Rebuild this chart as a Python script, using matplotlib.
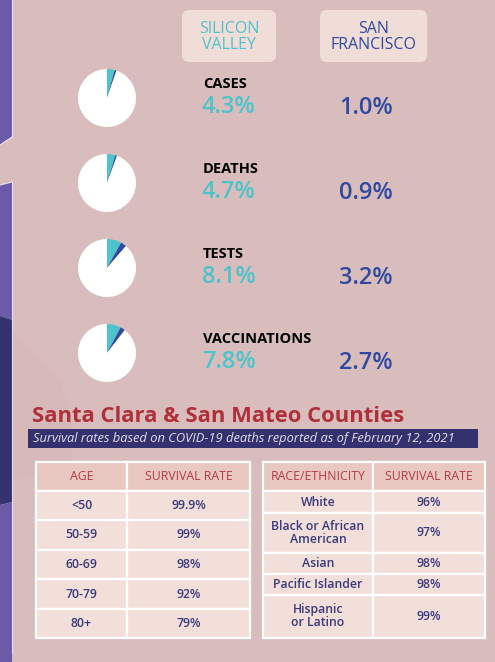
import matplotlib
matplotlib.use("Agg")
import matplotlib.pyplot as plt
from matplotlib.patches import Polygon, FancyBboxPatch, Rectangle

plt.rcParams['font.family'] = ['Open Sans', 'DejaVu Sans']

# ---------------- data ----------------
metrics = ["CASES", "DEATHS", "TESTS", "VACCINATIONS"]
silicon_valley = [4.3, 4.7, 8.1, 7.8]
san_francisco = [1.0, 0.9, 3.2, 2.7]
region_labels = ["SILICON\nVALLEY", "SAN\nFRANCISCO"]

title = "Santa Clara & San Mateo Counties"
subtitle = "Survival rates based on COVID-19 deaths reported as of February 12, 2021"

age_header = ["AGE", "SURVIVAL RATE"]
age_groups = ["<50", "50-59", "60-69", "70-79", "80+"]
age_survival = [99.9, 99, 98, 92, 79]

race_header = ["RACE/ETHNICITY", "SURVIVAL RATE"]
race_groups = ["White", "Black or African\nAmerican", "Asian", "Pacific Islander", "Hispanic\nor Latino"]
race_survival = [96, 97, 98, 98, 99]

# ---------------- style ----------------
W, H = 495, 662
BG = '#d9bdbd'
PURPLE = '#6a5aa8'
NAVY = '#33326f'
TEAL = '#4dc3cb'
BLUE = '#2f4aa0'
BOX = '#f0ddd8'
RED = '#b0303a'
HEAD_FILL = '#e8c8c0'
BODY_FILL = '#f2dfda'
BODY_TXT = '#3a3a7c'

fig = plt.figure(figsize=(W / 100, H / 100), dpi=100)
fig.patch.set_facecolor(BG)
ax = fig.add_axes([0, 0, 1, 1])
ax.set_xlim(0, W)
ax.set_ylim(H, 0)
ax.axis('off')

# left decorative strip
ax.add_patch(Polygon([(0, 0), (12, 0), (12, 137), (0, 145)], closed=True, fc=PURPLE, ec='none'))
ax.add_patch(Polygon([(0, 185), (12, 182), (12, 320), (0, 316)], closed=True, fc=PURPLE, ec='none'))
ax.add_patch(Polygon([(0, 316), (12, 320), (12, 502), (0, 505)], closed=True, fc=NAVY, ec='none'))
ax.add_patch(Polygon([(0, 505), (12, 502), (12, 662), (0, 662)], closed=True, fc=PURPLE, ec='none'))
ax.add_patch(Polygon([(0, 145), (12, 137), (12, 182), (0, 185)], closed=True, fc=BG, ec='none'))
ax.plot([12, 12], [0, 137], color='#e8e0f0', lw=0.8)
ax.plot([12, 12], [182, 652], color='#e8e0f0', lw=0.8)
ax.plot([0, 12], [145, 137], color='#e8e0f0', lw=0.8)
ax.plot([0, 12], [185, 182], color='#e8e0f0', lw=0.8)
# subtle shading in panel
ax.add_patch(Polygon([(12, 330), (60, 380), (75, 430), (70, 470), (12, 480)], closed=True,
                     fc='#d4b6b4', ec='none', alpha=0.5))

# header boxes
for cx, bw, lab, col in zip([229, 373.5], [94, 107], region_labels, [TEAL, BLUE]):
    ax.add_patch(FancyBboxPatch((cx - bw / 2, 10), bw, 52, boxstyle="round,pad=0,rounding_size=7",
                                fc=BOX, ec='none'))
    ax.text(cx, 37, lab, ha='center', va='center', color=col, fontsize=11.5,
            linespacing=1.0, fontweight='medium')

# rows with pies
pie_y = [98, 183, 268, 353]
r = 29
for i, m in enumerate(metrics):
    cy = pie_y[i]
    pax = fig.add_axes([(107 - r) / W, 1 - (cy + r) / H, 2 * r / W, 2 * r / H])
    pax.pie([silicon_valley[i], san_francisco[i], 100 - silicon_valley[i] - san_francisco[i]],
            colors=[TEAL, BLUE, 'white'], startangle=90, counterclock=False,
            wedgeprops=dict(linewidth=0))
    pax.set_xlim(-1, 1)
    pax.set_ylim(-1, 1)
    pax.set_aspect('equal')
    pax.axis('off')
    ax.text(203, cy - 14, m, ha='left', va='center', color='black', fontsize=10.5, fontweight='bold')
    ax.text(202, cy + 9, f"{silicon_valley[i]:.1f}%", ha='left', va='center', color=TEAL,
            fontsize=17, fontweight='semibold')
    ax.text(366, cy + 10, f"{san_francisco[i]:.1f}%", ha='center', va='center', color=BLUE,
            fontsize=17, fontweight='semibold')

# title and subtitle
ax.text(32, 417, title, ha='left', va='center', color=RED, fontsize=15.8, fontweight='bold')
ax.add_patch(Rectangle((28, 429), 450, 19, fc=NAVY, ec='none'))
ax.text(33, 438.5, subtitle, ha='left', va='center', color='#e6dcea', fontsize=9.3, style='italic')


def make_table(x0, x1, y0, y1, header, rows, col_w, row_h):
    tax = fig.add_axes([x0 / W, 1 - y1 / H, (x1 - x0) / W, (y1 - y0) / H])
    tax.axis('off')
    tbl = tax.table(cellText=rows, colLabels=header, colWidths=col_w, cellLoc='center',
                    bbox=[0, 0, 1, 1])
    tbl.auto_set_font_size(False)
    for (ri, ci), cell in tbl.get_celld().items():
        cell.set_edgecolor('white')
        cell.set_linewidth(1.6)
        cell.set_height(row_h[ri])
        t = cell.get_text()
        if ri == 0:
            cell.set_facecolor(HEAD_FILL)
            t.set_color('#b83a44')
            t.set_fontsize(8.8)
            t.set_fontweight('medium')
        else:
            cell.set_facecolor(BODY_FILL)
            t.set_color(BODY_TXT)
            t.set_fontsize(8.8)
            t.set_fontweight('semibold')
            t.set_linespacing(1.0)
    return tbl


age_rows = [[g, f"{v:g}%"] for g, v in zip(age_groups, age_survival)]
make_table(36, 250, 462, 638, age_header, age_rows, [91, 123], [29, 29, 30, 29, 30, 29])

race_rows = [[g, f"{v:g}%"] for g, v in zip(race_groups, race_survival)]
make_table(263, 485, 462, 638, race_header, race_rows, [110, 112], [29, 22, 40, 21, 21, 43])

fig.savefig("out.png", dpi=100, facecolor=BG)
